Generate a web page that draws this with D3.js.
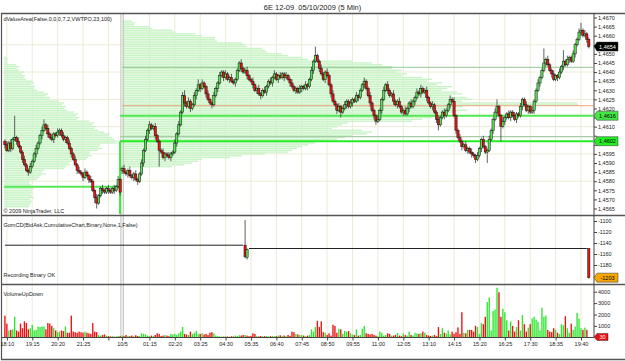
<!DOCTYPE html>
<html>
<head>
<meta charset="utf-8">
<script src="https://cdn.jsdelivr.net/npm/d3@7/dist/d3.min.js"></script>
<style>
    body { margin: 0; background: #fff; }
    svg { display: block; }
    text { font-family: "Liberation Sans", Arial, sans-serif; }
</style>
</head>
<body>
<svg id="chart" width="625" height="361"></svg>
<script>
/*************************************************************************************************************
 * Data (prices are pips above 1.4500, 5 min bars)
 *************************************************************************************************************/
let firstOpen = 102;
let sessionBreak = 60;        // first bar of 10/5
let session2Open = 86;

let closes = [
    100,97,101,98,103,104,102,99,96,92, 89,86,85,88,91,95,98,101,105,108,
    111,109,106,104,103,106,105,107,108,105, 103,104,101,98,95,92,89,86,85,84,
    82,85,83,81,80,75,71,68,72,76, 75,74,76,75,74,76,75,77,81,74,
    // session 2
    87,85,84,86,83,82,84,81,80,84, 90,97,103,108,111,109,110,105,102,97,
    96,93,95,94,93,95,96,101,106,111, 118,127,123,121,124,120,122,127,130,133,
    131,134,132,128,125,123,122,127,131,134, 138,140,137,139,136,137,135,134,136,141,
    145,142,140,141,138,136,135,133,130,131, 128,127,130,129,132,135,134,137,139,136,
    138,137,139,137,138,136,134,132,130,131, 129,131,132,131,133,132,136,141,146,149,
    146,142,139,136,140,138,133,128,124,122, 119,121,118,120,122,124,121,123,125,124,
    127,126,130,133,135,131,127,123,119,116, 113,114,119,125,130,133,130,127,128,124,
    122,124,121,118,119,117,120,123,121,124, 126,129,128,131,129,130,126,123,121,122,
    118,114,111,115,118,116,119,122,125,124, 116,108,104,102,99,100,97,98,96,95,
    94,92,94,98,103,99,96,97,103,108, 114,118,121,116,110,113,115,117,115,118,
    116,114,117,116,121,125,122,119,121,118, 119,124,130,134,137,141,145,147,144,141,
    139,136,138,137,140,143,146,144,147,148, 146,150,155,158,162,163,160,161,158,154
];

// wick length above / below the body, in pips
let hiExt = [
    1,2,1,2,1,12,1,2,1,1, 2,1,1,2,1,1,2,1,1,2, 3,1,2,1,2,1,1,2,1,1,
    2,1,1,2,1,1,2,1,2,1, 1,2,1,1,2,1,1,2,1,1, 2,1,1,2,1,1,2,1,2,1,
    1,2,1,1,2,1,1,2,1,1, 2,1,2,1,2,1,1,2,1,1, 1,2,1,1,2,1,1,2,1,2,
    1,2,3,1,2,1,1,2,1,3, 1,2,1,1,2,1,1,2,1,1, 2,1,1,2,1,1,2,1,1,1,
    1,2,1,1,2,1,1,2,1,1, 2,1,1,2,1,1,2,1,2,1, 1,2,1,1,2,1,1,2,1,1,
    1,2,1,1,2,1,1,2,1,5, 1,1,2,1,1,2,1,1,2,1, 1,2,1,1,2,1,1,2,1,1,
    2,1,1,1,2,1,1,2,1,1, 1,2,1,1,2,1,2,1,1,2, 1,1,2,1,1,2,1,1,2,1,
    1,2,1,2,1,1,2,1,1,2, 1,1,2,1,1,2,1,1,2,1, 2,1,1,2,1,1,2,1,1,2,
    1,1,2,1,1,2,1,1,2,1, 1,2,4,1,1,2,1,1,2,1, 1,2,1,1,2,1,1,2,1,1,
    2,1,1,2,1,1,8,1,2,1, 1,2,1,1,2,1,6,1,2,1, 1,2,1,1,2,4,1,2,1,1
];
let loExt = [
    2,1,1,2,1,1,2,1,1,2, 1,1,2,1,1,1,2,1,1,2, 1,1,2,1,1,2,1,1,2,1,
    1,2,1,1,2,1,1,2,1,1, 2,1,1,2,1,1,3,3,1,1, 2,1,1,2,1,1,2,1,1,2,
    2,1,1,2,1,1,2,1,2,1, 1,2,1,1,2,1,1,2,1,9, 1,1,2,1,1,2,1,1,2,1,
    1,1,2,1,1,2,1,1,2,1, 2,1,1,2,1,1,2,1,1,2, 1,1,2,1,1,2,1,1,2,1,
    1,2,1,1,2,1,1,2,1,2, 1,2,1,1,2,1,1,2,1,1, 2,1,1,2,1,1,2,1,1,2,
    1,1,2,1,1,2,1,1,2,1, 1,2,1,1,2,1,1,2,1,1, 2,1,3,1,1,2,1,1,2,1,
    1,2,1,1,2,1,1,2,1,2, 2,1,1,2,1,1,2,1,1,2, 1,2,1,1,2,1,1,2,1,1,
    2,1,1,2,1,1,2,1,1,2, 1,2,3,1,1,2,1,1,2,1, 1,2,1,1,2,1,1,2,1,2,
    1,2,1,1,2,1,1,6,1,1, 2,1,1,1,8,1,2,1,1,2, 1,1,2,1,1,2,1,1,2,1,
    1,2,1,1,2,1,1,2,1,1, 2,1,1,2,1,1,2,1,1,2, 1,1,2,1,1,2,1,1,2,1
];

let volumes = [
    1900,1200,600,650,700,1800,600,500,1200,800, 1400,1250,700,800,1100,600,650,950,900,950,
    950,700,1250,1200,1000,800,600,450,500,600, 550,950,400,400,1900,500,450,400,500,450,
    400,500,400,350,300,1250,500,450,200,150, 200,250,150,100,80,100,60,80,120,100,
    150,100,200,120,100,150,100,180,120,100, 350,300,250,150,100,150,120,200,350,300,
    120,150,200,150,100,300,250,300,200,350, 500,900,300,250,200,500,300,400,580,250,
    300,350,250,300,200,400,450,350,150,100, 80,70,60,80,70,60,90,70,150,120,
    180,150,200,200,150,100,120,350,300,100, 80,120,90,100,110,80,100,120,90,100,
    150,180,120,150,100,200,120,500,450,300, 250,200,200,150,100,150,200,700,500,900,
    1450,900,1400,450,400,200,350,150,1100,1000, 400,750,700,300,550,500,550,350,250,200,
    700,150,200,750,1000,350,300,250,300,200, 150,100,500,400,150,200,350,300,150,150,
    200,400,150,100,350,200,150,500,200,150, 400,350,300,350,500,400,200,150,120,150,
    200,100,900,300,800,400,350,600,250,500, 300,450,870,300,2200,400,350,650,650,650,
    500,1000,900,300,1250,1150,1800,3100,3500,600, 2300,2450,4350,3950,1800,2500,2200,1500,600,1400,
    1000,500,900,1500,600,1950,1150,500,850,1150, 1650,1800,1550,1350,600,2600,1800,1900,650,500,
    450,800,650,400,300,1150,1050,1850,800,400, 1200,650,950,2150,1650,800,650,850,650,30
];

let timeTickIdx = [1, 14, 27, 40, 53, 60, 74, 87, 100, 113, 126, 139, 152, 165, 178, 191, 204, 217, 230, 243, 256, 269, 282, 295];
let timeTickLabels = ['18:10', '19:15', '20:20', '21:25', '', '10/5', '01:15', '02:20', '03:25', '04:30', '05:35', '06:40',
    '07:45', '08:50', '09:55', '11:00', '12:05', '13:10', '14:15', '15:20', '16:25', '17:30', '18:35', '19:40'];

let priceTicks = [1.4565, 1.4570, 1.4575, 1.4580, 1.4585, 1.4590, 1.4595, 1.4600, 1.4605, 1.4610, 1.4615, 1.4620,
    1.4625, 1.4630, 1.4635, 1.4640, 1.4645, 1.4650, 1.4655, 1.4660, 1.4665, 1.4670];
let priceGrid = [1.4580, 1.4595, 1.4610, 1.4625, 1.4640, 1.4655];

// value area profiles (volume at price, one row per pip, listed from the top price down)
let profile1Top = 148;
let profile1 = [3,4,3,4, 12,15,13,15, 20,18,21,20,22, 28,30,27,31,30,33, 40,44,42,46,45,
    55,60,58,62,60,63, 70,74,72,75,73, 85,90,88,92,90,94, 100,106,104,108,110, 113,112,
    96,95,98,94, 86,85,88,84,82, 68,65,66,62,60, 40,38,42,37,35,33, 26,25,27,24,
    30,28,29,27,28,30,26, 28,27,26,25];
let profile2Top = 168;
let profile2 = [10,13,12, 28,30, 50,53, 73,80,93, 93,95, 120,123,125, 140,143,145, 160,166,180,186,
    230,250,260,270, 270,280,275,285,280, 300,310,305,320,315,330,325,320,335,340,
    330,345,350,340,455, 456,340,330,345,335, 320,330,310,300,290, 226,220,215,210,
    240,250,245,230, 223,215,205,193, 186,180,175,170,166, 143,120,108, 80,76,70,62,50];

let s2VAHigh = 1.46426, s2POC = 1.46215, s2Level1 = 1.4616, s2VALow = 1.46045, s2Level2 = 1.4602;
let s1Level = 1.4577;

// GomCD cumulative delta
let cdFlatFrom = [0, 125], cdFlatTo = [122, 298], cdFlatValue = [-1144, -1150];
let cdIdx = [123, 124, 299];
let cdOpen = [-1144, -1166, -1150];
let cdHigh = [-1098, -1150, -1150];
let cdLow = [-1168, -1170, -1205];
let cdClose = [-1165, -1152, -1203];
let cdTicks = [-1100, -1120, -1140, -1160, -1180, -1200];
let volTicks = [1000, 2000, 3000, 4000];

/*************************************************************************************************************
 * Drawing
 *************************************************************************************************************/
const svg = d3.select("#chart");
const AXIS_X = 594;
const FONT = "'Liberation Sans', Arial, sans-serif";

let pip = p => 1.45 + p / 10000;

let x = d3.scaleLinear().domain([0, closes.length - 1]).range([4.9, 588.8]);
let step = x(1) - x(0);
let y = d3.scaleLinear().domain([1.4565, 1.4670]).range([208.5, 17.5]);
let yCd = d3.scaleLinear().domain([-1100, -1200]).range([221, 276]);
let yVol = d3.scaleLinear().domain([0, 4000]).range([337.3, 291.7]);
let prof = d3.scaleLinear().domain([0, 100]).range([0, 100]);

let bars = closes.map((c, i) => {
    let o = i === 0 ? firstOpen : (i === sessionBreak ? session2Open : closes[i - 1]);
    return {
        i: i,
        o: pip(o),
        c: pip(c),
        h: pip(Math.max(o, c) + hiExt[i]),
        l: pip(Math.min(o, c) - loExt[i])
    };
});

// grid
let grid = svg.append("g");
grid.selectAll(".vgrid").data(timeTickIdx).enter().append("line")
    .attr("x1", d => x(d)).attr("x2", d => x(d))
    .attr("y1", 13).attr("y2", 337)
    .attr("stroke", "#ecebd8").attr("stroke-width", 1);
grid.selectAll(".hgrid").data(priceGrid).enter().append("line")
    .attr("x1", 2).attr("x2", AXIS_X)
    .attr("y1", d => y(d)).attr("y2", d => y(d))
    .attr("stroke", "#ecebd8").attr("stroke-width", 1);

// volume profiles
function drawProfile(lengths, topPip, x0) {
    svg.append("g").selectAll("rect").data(lengths).enter().append("rect")
        .attr("x", x0)
        .attr("y", (d, k) => y(pip(topPip - k)) - 0.65)
        .attr("width", d => prof(d))
        .attr("height", 1.3)
        .attr("fill", "#c6f3c3");
}
drawProfile(profile1, profile1Top, 4);
drawProfile(profile2, profile2Top, x(sessionBreak));

// session break
[x(sessionBreak) - 1.2, x(sessionBreak) + 1.3].forEach(xx => {
    svg.append("line").attr("x1", xx).attr("x2", xx).attr("y1", 13).attr("y2", 337)
        .attr("stroke", "#c4c4c4").attr("stroke-width", 1);
});

// value area lines
function hLine(price, x1, color, w) {
    svg.append("line").attr("x1", x1).attr("x2", AXIS_X - 1)
        .attr("y1", y(price)).attr("y2", y(price))
        .attr("stroke", color).attr("stroke-width", w);
}
hLine(s2VAHigh, x(sessionBreak), "#96c896", 1);
hLine(s2POC, x(sessionBreak), "#f0a080", 1);
hLine(s2VALow, x(sessionBreak) - 2, "#a8cca8", 1.2);
hLine(s2Level1, x(sessionBreak) - 2, "#50e850", 2);
hLine(s2Level2, x(sessionBreak) - 2, "#22ee22", 2);
svg.append("line").attr("x1", 4).attr("x2", x(sessionBreak) - 2)
    .attr("y1", y(s1Level)).attr("y2", y(s1Level))
    .attr("stroke", "#55e855").attr("stroke-width", 2);
svg.append("line").attr("x1", x(sessionBreak) - 2).attr("x2", x(sessionBreak) - 2)
    .attr("y1", y(s2Level2)).attr("y2", 214)
    .attr("stroke", "#33ee33").attr("stroke-width", 2);

// candles
let bw = step * 1.15;
function drawCandles(data, ys) {
    let g = svg.append("g");
    g.selectAll(".wick").data(data).enter().append("line")
        .attr("x1", d => x(d.i)).attr("x2", d => x(d.i))
        .attr("y1", d => ys(d.h)).attr("y2", d => ys(d.l))
        .attr("stroke", "#3a3a3a").attr("stroke-width", 0.8);
    g.selectAll(".body").data(data).enter().append("rect")
        .attr("x", d => x(d.i) - bw / 2)
        .attr("y", d => Math.min(ys(d.o), ys(d.c)))
        .attr("width", bw)
        .attr("height", d => Math.max(0.8, Math.abs(ys(d.o) - ys(d.c))))
        .attr("fill", d => d.c >= d.o ? "#55e055" : "#e81212")
        .attr("stroke", "#111").attr("stroke-width", 0.5);
}
drawCandles(bars, y);

// CD panel
cdFlatFrom.forEach((f, k) => {
    svg.append("line").attr("x1", x(f)).attr("x2", x(cdFlatTo[k]))
        .attr("y1", yCd(cdFlatValue[k])).attr("y2", yCd(cdFlatValue[k]))
        .attr("stroke", "#222").attr("stroke-width", 1);
});
drawCandles(cdIdx.map((i, k) => ({i: i, o: cdOpen[k], h: cdHigh[k], l: cdLow[k], c: cdClose[k]})), yCd);

// volume bars
svg.append("g").selectAll("rect").data(volumes).enter().append("rect")
    .attr("x", (d, i) => x(i) - step * 0.35)
    .attr("y", d => yVol(d))
    .attr("width", step * 0.7)
    .attr("height", d => yVol(0) - yVol(d))
    .attr("fill", (d, i) => bars[i].c >= bars[i].o ? "#2ee82e" : "#ee1111");

// frame
let frame = svg.append("g").attr("stroke", "#555");
[[1, 625, 13.5, 13.5], [1, 625, 215.5, 215.5], [1, 625, 284.5, 284.5], [1, 625, 359.5, 359.5]].forEach(l => {
    frame.append("line").attr("x1", l[0]).attr("x2", l[1]).attr("y1", l[2]).attr("y2", l[3]).attr("stroke-width", 1.5);
});
frame.append("line").attr("x1", 1.5).attr("x2", 1.5).attr("y1", 13).attr("y2", 360).attr("stroke-width", 1.2);
frame.append("line").attr("x1", AXIS_X).attr("x2", AXIS_X).attr("y1", 13).attr("y2", 337.5)
    .attr("stroke", "#444").attr("stroke-width", 1);
frame.append("line").attr("x1", 1.5).attr("x2", AXIS_X).attr("y1", 337.5).attr("y2", 337.5)
    .attr("stroke", "#444").attr("stroke-width", 1);

// right axes
function rightAxis(scale, ticks, fmt, hideNear) {
    let g = svg.append("g").attr("transform", "translate(" + AXIS_X + ",0)")
        .call(d3.axisRight(scale).tickValues(ticks).tickSize(3).tickSizeOuter(0).tickPadding(1).tickFormat(fmt));
    g.select(".domain").remove();
    g.attr("font-size", 5.5).attr("font-family", FONT);
    g.selectAll("line").attr("stroke", "#444");
    g.selectAll("text").attr("fill", "#222")
        .style("display", d => hideNear.some(v => Math.abs(scale(v) - scale(d)) < 5.5) ? "none" : null);
}
rightAxis(y, priceTicks, d => d.toFixed(4).replace(".", ","), [1.4654, s2Level1, s2Level2]);
rightAxis(yCd, cdTicks, d => d, [cdClose[cdClose.length - 1]]);
rightAxis(yVol, volTicks, d => d, []);

// bottom time axis
let gx = svg.append("g").attr("transform", "translate(0,337.5)")
    .call(d3.axisBottom(x).tickValues(timeTickIdx).tickSize(3).tickSizeOuter(0).tickPadding(2)
        .tickFormat((d, k) => timeTickLabels[k]));
gx.select(".domain").remove();
gx.attr("font-size", 5.5).attr("font-family", FONT);
gx.selectAll("line").attr("stroke", "#444");
gx.selectAll("text").attr("fill", "#222");

// value tags on the axes
function tag(yy, label, fill, color) {
    let g = svg.append("g");
    g.append("path")
        .attr("d", `M${AXIS_X},${yy} L${AXIS_X + 3},${yy - 4.5} L${AXIS_X + 24},${yy - 4.5} L${AXIS_X + 24},${yy + 4.5} L${AXIS_X + 3},${yy + 4.5} Z`)
        .attr("fill", fill).attr("stroke", "#333").attr("stroke-width", 0.5);
    g.append("text").attr("x", AXIS_X + 13.5).attr("y", yy + 2)
        .attr("text-anchor", "middle").attr("font-size", 5.5).attr("fill", color)
        .text(label);
}
let lastPrice = bars[bars.length - 1].c;
tag(y(lastPrice), lastPrice.toFixed(4).replace(".", ","), "#000", "#fff");
tag(y(s2Level1), s2Level1.toFixed(4).replace(".", ","), "#44e844", "#000");
tag(y(s2Level2), s2Level2.toFixed(4).replace(".", ","), "#22ee22", "#000");
tag(yCd(cdClose[cdClose.length - 1]), String(cdClose[cdClose.length - 1]), "#f7a600", "#000");
let lastVol = volumes[volumes.length - 1];
svg.append("g").call(g => {
    let yy = yVol(lastVol);
    g.append("path")
        .attr("d", `M${AXIS_X},${yy} L${AXIS_X + 3},${yy - 3.5} L${AXIS_X + 14},${yy - 3.5} L${AXIS_X + 14},${yy + 3.5} L${AXIS_X + 3},${yy + 3.5} Z`)
        .attr("fill", "#e81010").attr("stroke", "#333").attr("stroke-width", 0.5);
    g.append("text").attr("x", AXIS_X + 8.5).attr("y", yy + 2).attr("text-anchor", "middle")
        .attr("font-size", 5.5).attr("font-family", FONT).attr("fill", "#fff").text(lastVol);
});

// titles and panel labels
svg.append("text").attr("x", 312.5).attr("y", 10).attr("text-anchor", "middle")
    .attr("font-size", 7.5).attr("fill", "#222").style("white-space", "pre")
    .text("6E 12-09  05/10/2009 (5 Min)");
[["dValueArea(False,0,0,0,7,2,VWTPO,23,100)", 21],
 ["\u00a9 2009 NinjaTrader, LLC", 212.5],
 ["GomCD(BidAsk,CumulativeChart,Binary,None,1,False)", 227],
 ["Recording Binary OK", 277],
 ["VolumeUpDown", 295.5]].forEach(t => {
    svg.append("text").attr("x", 3.5).attr("y", t[1])
        .attr("font-size", 5.5).attr("fill", "#222").text(t[0]);
});
</script>
</body>
</html>
